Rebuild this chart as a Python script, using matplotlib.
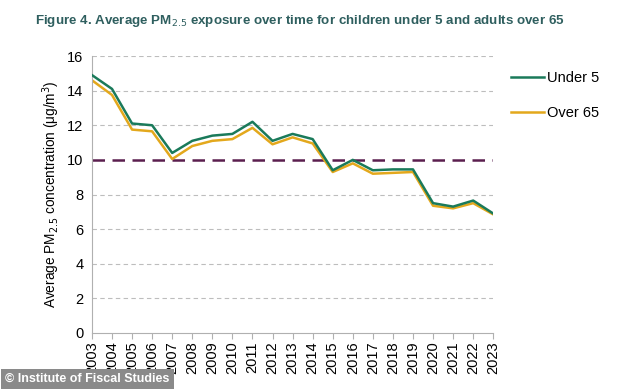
import matplotlib.pyplot as plt

plt.rcParams['font.family'] = ['Liberation Sans', 'DejaVu Sans']

years = list(range(2003, 2024))
under_5 = [14.9, 14.1, 12.1, 12.0, 10.4, 11.1, 11.4, 11.5, 12.2, 11.1, 11.5, 11.2,
           9.4, 10.0, 9.4, 9.45, 9.45, 7.5, 7.3, 7.65, 6.9]
over_65 = [14.6, 13.75, 11.75, 11.65, 10.05, 10.8, 11.1, 11.2, 11.85, 10.9, 11.3, 10.95,
           9.3, 9.8, 9.2, 9.25, 9.3, 7.35, 7.2, 7.5, 6.85]
yticks = [0, 2, 4, 6, 8, 10, 12, 14, 16]
threshold = 10

fig = plt.figure(figsize=(6.34, 3.89), dpi=100)
ax = fig.add_axes([0.145, 0.144, 0.633, 0.712])

# grille pointillee
for t in yticks[1:]:
    if t != threshold:
        ax.axhline(t, color='#bdbdbd', lw=0.8, ls=(0, (4, 3)), zorder=0)

ax.axhline(threshold, color='#5a1e4e', lw=1.8, ls=(0, (5, 3)), zorder=1)

ax.plot(years, over_65, color='#e3a81c', lw=1.8, label='Over 65', zorder=2)
ax.plot(years, under_5, color='#1a7a5a', lw=1.8, label='Under 5', zorder=3)

ax.set_xlim(years[0], years[-1])
ax.set_ylim(0, 16)
ax.set_yticks(yticks)
ax.set_xticks(years)
ax.set_xticklabels([str(y) for y in years], rotation=90, fontsize=10.5)
ax.tick_params(axis='y', length=0, labelsize=10.5, pad=6)
ax.tick_params(axis='x', length=4, color='#b0b0b0', pad=2)
for s in ['top', 'right']:
    ax.spines[s].set_visible(False)
ax.spines['left'].set_color('#b0b0b0')
ax.spines['bottom'].set_color('#b0b0b0')
ax.set_ylabel('Average PM$_{2.5}$ concentration (μg/m$^3$)', fontsize=9.8)

handles, labels = ax.get_legend_handles_labels()
fig.legend(handles[::-1], labels[::-1], loc='upper left', bbox_to_anchor=(0.785, 0.85),
           frameon=False, fontsize=10.5, handlelength=2.3, handletextpad=0.2,
           labelspacing=1.4)

fig.text(0.055, 0.945, 'Figure 4. Average PM$_{2.5}$ exposure over time for children under 5 and adults over 65',
         fontsize=9.6, fontweight='bold', color='#2f5f5f', va='center')

fig.text(0.008, 0.025, '© Institute of Fiscal Studies', fontsize=9, fontweight='bold',
         color='white', va='center',
         bbox=dict(boxstyle='square,pad=0.35', fc='#8a8a8a', ec='none'))

fig.savefig('out.png', dpi=100)
